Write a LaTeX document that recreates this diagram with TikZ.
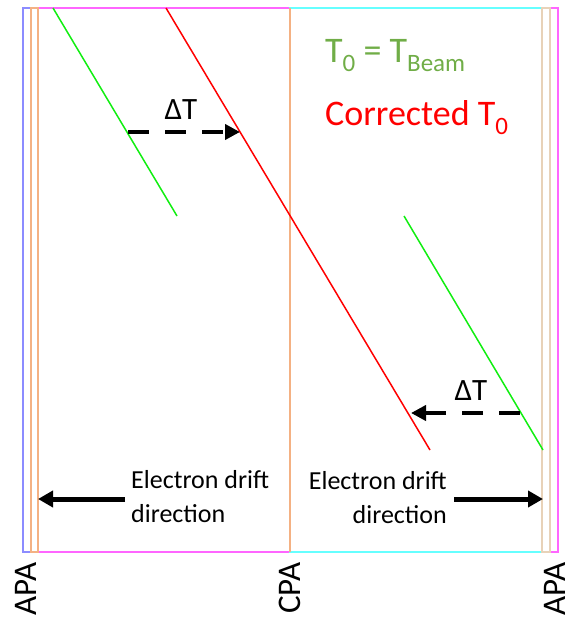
\documentclass[tikz,border=0pt]{standalone}
\usepackage{fontspec}
\setmainfont{Carlito}
\usetikzlibrary{arrows.meta}
\definecolor{apablue}{HTML}{8C8CFF}
\definecolor{lorange}{HTML}{F4B183}
\definecolor{ltan}{HTML}{E8D2B8}
\definecolor{lmag}{HTML}{FF66FF}
\definecolor{lcyan}{HTML}{66FFFF}
\definecolor{tgreen}{HTML}{70AD47}
\definecolor{trkgreen}{HTML}{11EE11}
\newcommand{\mysub}[2]{\raisebox{-0.25em}{\fontsize{#1}{#1}\selectfont #2}}
\tikzset{
  frame/.style={line width=1.4pt},
  track/.style={line width=1.5pt},
  dtarrow/.style={line width=4pt, dash pattern=on 21pt off 16pt, -{Triangle[length=15pt,width=15pt]}},
  driftarrow/.style={line width=5pt, -{Triangle[length=15pt,width=16pt]}},
  lbl/.style={inner sep=0pt, font=\fontsize{26}{30}\selectfont},
  plane/.style={inner sep=0pt, rotate=90, font=\fontsize{33}{36}\selectfont},
}
\begin{document}
\begin{tikzpicture}[x=1pt,y=-1pt]
\useasboundingbox (0,0) rectangle (571,617);
% frames
\draw[frame,lmag] (38,8) rectangle (290,552);
\draw[frame,lmag] (550,8) rectangle (558,552);
\draw[frame,lcyan] (290,8) rectangle (542,552);
\draw[frame,apablue] (23,8) rectangle (31,552);
\draw[frame,lorange] (31,8) rectangle (38,552);
\draw[frame,lorange] (290,8) -- (290,552);
\draw[frame,ltan] (542,8) rectangle (550,552);
% track endpoints
\coordinate (g1a) at (53,8);
\coordinate (g1b) at (177,216);
\coordinate (ra) at (166,8);
\coordinate (rb) at (430,450);
\coordinate (g2a) at (404,216);
\coordinate (g2b) at (543,450);
\draw[track,trkgreen] (g1a) -- (g1b);
\draw[track,red] (ra) -- (rb);
\draw[track,trkgreen] (g2a) -- (g2b);
% delta T arrows
\coordinate (d1s) at (128,132);
\coordinate (d1e) at (240,132);
\coordinate (d2s) at (520,413);
\coordinate (d2e) at (411,413);
\draw[dtarrow] (d1s) -- (d1e);
\draw[dtarrow] (d2s) -- (d2e);
\node[lbl, anchor=base, font=\fontsize{31}{34}\selectfont] (dt1) at (181,120) {ΔT};
\node[lbl, anchor=base, font=\fontsize{31}{34}\selectfont] (dt2) at (471,400) {ΔT};
% legend
\node[lbl, anchor=base west, text=tgreen, font=\fontsize{36}{40}\selectfont] (leg1) at (325,63) {T\mysub{25}{0} = T\mysub{25}{Beam}};
\node[lbl, anchor=base west, text=red, font=\fontsize{36}{40}\selectfont] (leg2) at (325,126) {Corrected T\mysub{25}{0}};
% drift direction
\node[lbl, anchor=base west] (el1) at (131,488) {Electron drift};
\node[lbl, anchor=base west] (el2) at (131,522) {direction};
\node[lbl, anchor=base east] (er1) at (447,489) {Electron drift};
\node[lbl, anchor=base east] (er2) at (447,523) {direction};
\coordinate (al1) at (125,499);
\coordinate (al2) at (38,499);
\coordinate (ar1) at (454,499);
\coordinate (ar2) at (543,499);
\draw[driftarrow] (al1) -- (al2);
\draw[driftarrow] (ar1) -- (ar2);
% plane labels
\node[plane] (apa1) at (26,589) {APA};
\node[plane] (cpa) at (290,588) {CPA};
\node[plane] (apa2) at (555,589) {APA};
\end{tikzpicture}
\end{document}
